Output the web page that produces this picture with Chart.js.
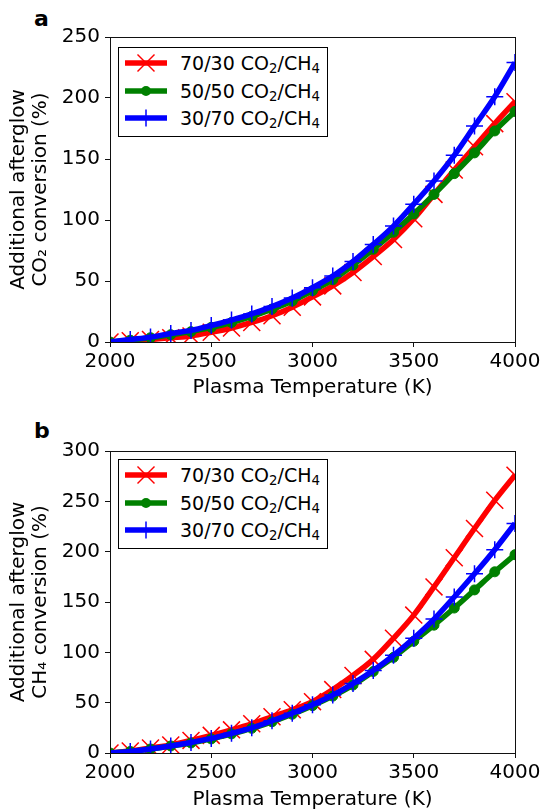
<!DOCTYPE html>
<html>
<head>
<meta charset="UTF-8"/>
<title>Additional afterglow conversion</title>
<script src="https://cdn.jsdelivr.net/npm/chart.js@4.4.0/dist/chart.umd.min.js"></script>
<style>
    body { margin: 0; background: #fff; font-family: "DejaVu Sans", sans-serif; }
    #page { position: relative; width: 544px; height: 810px; overflow: hidden; background: #fff; }
    .panel { position: absolute; left: 0; }
    .letter { position: absolute; left: 34px; font-weight: bold; font-size: 22px; line-height: 1; color: #000; }
    .legend { position: absolute; left: 118px; width: 208px; height: 88px; border: 1px solid #000; background: #fff; }
    .row { position: absolute; left: 0; width: 208px; height: 28px; }
    .row svg { position: absolute; left: 6px; top: 0; }
    .row span { position: absolute; left: 61px; top: 0; height: 28px; line-height: 28px; font-size: 19px; color: #000; white-space: nowrap; }
    .row sub { font-size: 0.7em; vertical-align: -0.25em; line-height: 0; }
</style>
</head>
<body>
<div id="page">
    <div class="letter" style="top:8px">a</div>
    <div class="letter" style="top:420px">b</div>
    <canvas id="chartA" class="panel" style="top:0px" width="544" height="405"></canvas>
    <canvas id="chartB" class="panel" style="top:405px" width="544" height="412"></canvas>
    <div id="legendA" class="legend" style="top:47px"></div>
    <div id="legendB" class="legend" style="top:459px"></div>
</div>
<script>
    // x values (K) and tick labels
    var temperature = [2000, 2100, 2200, 2300, 2400, 2500, 2600, 2700, 2800, 2900, 3000,
                       3100, 3200, 3300, 3400, 3500, 3600, 3700, 3800, 3900, 4000];
    var xTicks = [2000, 2500, 3000, 3500, 4000];
    var co2Ticks = [0, 50, 100, 150, 200, 250];
    var ch4Ticks = [0, 50, 100, 150, 200, 250, 300];

    var mixtures = ['70/30', '50/50', '30/70'];

    // (a) additional afterglow CO2 conversion (%)
    var co2_7030 = [0, 1, 2, 3.5, 5, 8, 11.5, 16, 21.5, 28.5, 37, 46, 57, 70, 84, 101, 121, 141, 160, 179, 197];
    var co2_5050 = [0, 1.5, 3.5, 6, 8.5, 12, 16, 21, 27, 33.5, 42, 51, 63, 76, 90, 105, 121, 138, 155, 173, 189];
    var co2_3070 = [0, 2, 4, 7, 9.5, 13.5, 18, 23, 29, 36, 44.5, 54, 66, 80, 95, 113, 132, 153, 177, 201, 229];

    // (b) additional afterglow CH4 conversion (%)
    var ch4_7030 = [0, 2, 5, 8, 12.5, 17.5, 23, 29, 36, 43, 51, 63, 77, 93, 114, 137, 165, 194, 223, 251, 276];
    var ch4_5050 = [0, 1.5, 4, 7, 10, 14, 19, 24.5, 31, 38.5, 47, 56.5, 67.5, 81, 95, 111, 127, 144, 162, 180, 197];
    var ch4_3070 = [0, 1.5, 4, 7, 10.5, 14.5, 19.5, 25, 32, 39.5, 48, 57.5, 69, 82, 97, 114, 133, 155, 178, 202, 228];

    // look of each mixture (red x, green dot, blue +)
    var looks = [
        { color: '#ff0000', point: 'crossRot', radius: 12, pw: 1.5, order: 3 },
        { color: '#008000', point: 'circle', radius: 5, pw: 1, order: 2 },
        { color: '#0000ff', point: 'cross', radius: 8.5, pw: 1.5, order: 1 }
    ];

    Chart.defaults.font.family = '"DejaVu Sans", sans-serif';
    Chart.defaults.color = '#000';

    // axes box like matplotlib spines
    var framePlugin = {
        id: 'frame',
        afterDatasetsDraw: function(chart) {
            var a = chart.chartArea, ctx = chart.ctx;
            ctx.save();
            ctx.strokeStyle = '#111';
            ctx.lineWidth = 1;
            ctx.strokeRect(a.left + 0.5, a.top + 0.5, a.right - a.left, a.bottom - a.top);
            ctx.restore();
        }
    };

    function makeChart(id, series, yTicks, plotTop, plotBottom, canvasHeight, yTitle) {
        var datasets = series.map(function(values, i) {
            var lk = looks[i];
            return {
                label: mixtures[i],
                data: temperature.map(function(t, j) { return { x: t, y: values[j] }; }),
                borderColor: lk.color,
                backgroundColor: lk.color,
                borderWidth: 5.5,
                cubicInterpolationMode: 'monotone',
                pointStyle: lk.point,
                pointRadius: lk.radius,
                pointBorderWidth: lk.pw,
                pointBorderColor: lk.color,
                pointBackgroundColor: lk.color,
                order: lk.order,
                clip: 0
            };
        });

        return new Chart(document.getElementById(id), {
            type: 'line',
            data: { datasets: datasets },
            plugins: [framePlugin],
            options: {
                responsive: false,
                animation: false,
                layout: { padding: { top: plotTop, right: 29, left: 0, bottom: 0 } },
                plugins: { legend: { display: false }, tooltip: { enabled: false } },
                scales: {
                    x: {
                        type: 'linear',
                        min: xTicks[0],
                        max: xTicks[xTicks.length - 1],
                        afterBuildTicks: function(scale) {
                            scale.ticks = xTicks.map(function(v) { return { value: v }; });
                        },
                        afterFit: function(scale) { scale.height = canvasHeight - plotBottom; },
                        border: { display: false },
                        grid: { drawOnChartArea: false, drawTicks: true, tickLength: 5, color: '#111', lineWidth: 1 },
                        ticks: {
                            autoSkip: false, maxRotation: 0, padding: 3,
                            font: { size: 20 }, color: '#000',
                            callback: function(v) { return String(v); }
                        },
                        title: {
                            display: true,
                            text: 'Plasma Temperature (K)',
                            font: { size: 20, lineHeight: 1.2 },
                            color: '#000',
                            padding: { top: 0, bottom: 5 }
                        }
                    },
                    y: {
                        min: yTicks[0],
                        max: yTicks[yTicks.length - 1],
                        afterBuildTicks: function(scale) {
                            scale.ticks = yTicks.map(function(v) { return { value: v }; });
                        },
                        afterFit: function(scale) { scale.width = 110; },
                        border: { display: false },
                        grid: { drawOnChartArea: false, drawTicks: true, tickLength: 5, color: '#111', lineWidth: 1 },
                        ticks: {
                            padding: 5, font: { size: 20 }, color: '#000',
                            callback: function(v) { return String(v); }
                        },
                        title: {
                            display: true,
                            text: yTitle,
                            font: { size: 20, lineHeight: 1.1 },
                            color: '#000',
                            padding: { top: 8, bottom: 0 }
                        }
                    }
                }
            }
        });
    }

    function buildLegend(id) {
        var box = document.getElementById(id);
        var centers = [15, 43, 70];
        mixtures.forEach(function(m, i) {
            var lk = looks[i];
            var mark = '';
            if (lk.point === 'crossRot') {
                mark = '<line x1="12.5" y1="5.5" x2="29.5" y2="22.5" stroke="' + lk.color + '" stroke-width="1.5"/>' +
                       '<line x1="12.5" y1="22.5" x2="29.5" y2="5.5" stroke="' + lk.color + '" stroke-width="1.5"/>';
            } else if (lk.point === 'circle') {
                mark = '<circle cx="21" cy="14" r="5" fill="' + lk.color + '"/>';
            } else {
                mark = '<line x1="12.5" y1="14" x2="29.5" y2="14" stroke="' + lk.color + '" stroke-width="1.5"/>' +
                       '<line x1="21" y1="5.5" x2="21" y2="22.5" stroke="' + lk.color + '" stroke-width="1.5"/>';
            }
            var row = document.createElement('div');
            row.className = 'row';
            row.style.top = (centers[i] - 14) + 'px';
            row.innerHTML = '<svg width="44" height="28"><line x1="0" y1="14" x2="42" y2="14" stroke="' +
                lk.color + '" stroke-width="5.5"/>' + mark + '</svg>' +
                '<span>' + m + ' CO<sub>2</sub>/CH<sub>4</sub></span>';
            box.appendChild(row);
        });
    }

    makeChart('chartA', [co2_7030, co2_5050, co2_3070], co2Ticks, 37, 342, 405,
              ['Additional afterglow', 'CO\u2082 conversion (%)']);
    makeChart('chartB', [ch4_7030, ch4_5050, ch4_3070], ch4Ticks, 46, 348, 412,
              ['Additional afterglow', 'CH\u2084 conversion (%)']);
    buildLegend('legendA');
    buildLegend('legendB');
</script>
</body>
</html>
